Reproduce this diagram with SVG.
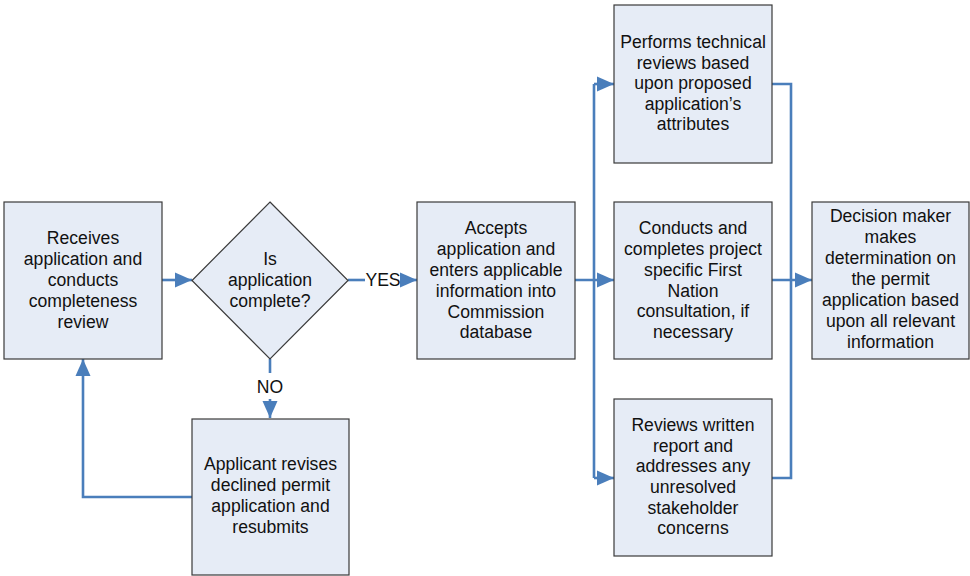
<svg xmlns="http://www.w3.org/2000/svg" width="970" height="576" viewBox="0 0 970 576">
<style>
.box{fill:#E6ECF6;stroke:#3a3a3a;stroke-width:1.2}
.t{font-family:"Liberation Sans",Arial,sans-serif;font-size:17.6px;fill:#111;text-anchor:middle}
.c{fill:none;stroke:#4A7EBB;stroke-width:2.6}
</style>
<defs>
<marker id="ah" markerUnits="userSpaceOnUse" markerWidth="18" markerHeight="16" refX="17" refY="8" orient="auto">
<path d="M0,0.5 L17,8 L0,15.5 z" fill="#4A7EBB"/>
</marker>
</defs>
<rect width="970" height="576" fill="#fff"/>
<g id="connectors">
<path class="c" d="M162,280 L192,280" marker-end="url(#ah)"/>
<path class="c" d="M348,280 L365,280"/>
<path class="c" d="M400,280 L417,280" marker-end="url(#ah)"/>
<path class="c" d="M575,280 L614,280" marker-end="url(#ah)"/>
<path class="c" d="M594,84 L594,478"/>
<path class="c" d="M594,84 L614,84" marker-end="url(#ah)"/>
<path class="c" d="M594,478 L614,478" marker-end="url(#ah)"/>
<path class="c" d="M772,84 L791,84 L791,478 L772,478"/>
<path class="c" d="M772,280 L812,280" marker-end="url(#ah)"/>
<path class="c" d="M270,359 L270,373"/>
<path class="c" d="M270,399 L270,418" marker-end="url(#ah)"/>
<path class="c" d="M192,497 L83,497 L83,359" marker-end="url(#ah)"/>
<text class="t" x="383" y="286">YES</text>
<text class="t" x="270" y="393">NO</text>
</g>
<g id="receives">
<rect class="box" x="4" y="202" width="158" height="157"/>
<text class="t" x="83" y="244">Receives</text>
<text class="t" x="83" y="265">application and</text>
<text class="t" x="83" y="286">conducts</text>
<text class="t" x="83" y="307">completeness</text>
<text class="t" x="83" y="328">review</text>
</g>
<g id="decision-complete">
<polygon class="box" points="270,202 348,280.5 270,359 192,280.5"/>
<text class="t" x="270" y="265">Is</text>
<text class="t" x="270" y="286">application</text>
<text class="t" x="270" y="307">complete?</text>
</g>
<g id="applicant">
<rect class="box" x="192" y="419" width="157" height="156"/>
<text class="t" x="270.5" y="470">Applicant revises</text>
<text class="t" x="270.5" y="491">declined permit</text>
<text class="t" x="270.5" y="512">application and</text>
<text class="t" x="270.5" y="533">resubmits</text>
</g>
<g id="accepts">
<rect class="box" x="417" y="202" width="158" height="157"/>
<text class="t" x="496" y="234">Accepts</text>
<text class="t" x="496" y="255">application and</text>
<text class="t" x="496" y="276">enters applicable</text>
<text class="t" x="496" y="297">information into</text>
<text class="t" x="496" y="318">Commission</text>
<text class="t" x="496" y="338">database</text>
</g>
<g id="technical">
<rect class="box" x="614" y="5" width="158" height="158"/>
<text class="t" x="693" y="48">Performs technical</text>
<text class="t" x="693" y="69">reviews based</text>
<text class="t" x="693" y="89">upon proposed</text>
<text class="t" x="693" y="110">application’s</text>
<text class="t" x="693" y="130">attributes</text>
</g>
<g id="first-nation">
<rect class="box" x="614" y="202" width="158" height="157"/>
<text class="t" x="693" y="234">Conducts and</text>
<text class="t" x="693" y="255">completes project</text>
<text class="t" x="693" y="276">specific First</text>
<text class="t" x="693" y="297">Nation</text>
<text class="t" x="693" y="317">consultation, if</text>
<text class="t" x="693" y="338">necessary</text>
</g>
<g id="stakeholder">
<rect class="box" x="614" y="399" width="158" height="157"/>
<text class="t" x="693" y="431">Reviews written</text>
<text class="t" x="693" y="452">report and</text>
<text class="t" x="693" y="472">addresses any</text>
<text class="t" x="693" y="493">unresolved</text>
<text class="t" x="693" y="514">stakeholder</text>
<text class="t" x="693" y="534">concerns</text>
</g>
<g id="decision-maker">
<rect class="box" x="812" y="202" width="157" height="157"/>
<text class="t" x="890.5" y="222">Decision maker</text>
<text class="t" x="890.5" y="243">makes</text>
<text class="t" x="890.5" y="264">determination on</text>
<text class="t" x="890.5" y="285">the permit</text>
<text class="t" x="890.5" y="306">application based</text>
<text class="t" x="890.5" y="327">upon all relevant</text>
<text class="t" x="890.5" y="348">information</text>
</g>
</svg>
